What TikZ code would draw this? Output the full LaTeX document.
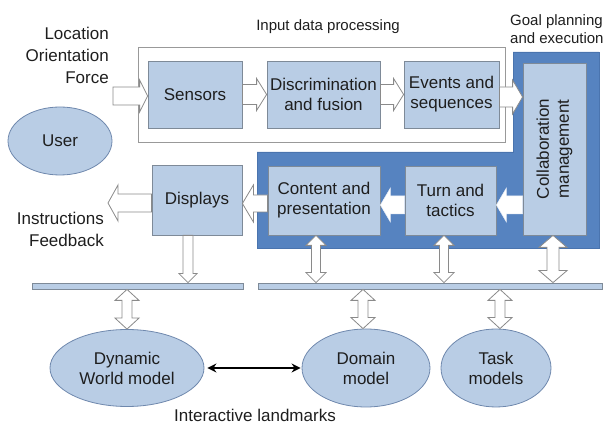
\documentclass[tikz,border=0pt]{standalone}
\usepackage{fontspec}
\setmainfont{Liberation Sans}
\usetikzlibrary{calc,shapes.geometric,arrows.meta}
\definecolor{boxfill}{HTML}{B9CDE5}
\definecolor{boxline}{HTML}{7E8A98}
\definecolor{darkblue}{HTML}{5683C0}
\definecolor{darkline}{HTML}{4A74AE}
\definecolor{ellline}{HTML}{6F88AD}
\definecolor{arrline}{HTML}{8A8A8A}
\definecolor{txt}{HTML}{1E1E1E}
% horizontal block arrow: style, from, to(tip), shaft half, head half, head length
\newcommand\harr[6]{%
  \path[#1] let \p1=(#2), \p2=(#3), \n1={sign(\x2-\x1)} in
    (\x1,{\y1+#4}) -- ({\x2-\n1*#6},{\y1+#4}) -- ({\x2-\n1*#6},{\y1+#5}) -- (\x2,\y1)
    -- ({\x2-\n1*#6},{\y1-#5}) -- ({\x2-\n1*#6},{\y1-#4}) -- (\x1,{\y1-#4}) -- cycle;}
% vertical double block arrow: style, top, bottom, shaft half, head half, head length
\newcommand\vdarr[6]{%
  \path[#1] let \p1=(#2), \p2=(#3) in
    (\x1,\y1) -- ({\x1+#5},{\y1-#6}) -- ({\x1+#4},{\y1-#6}) -- ({\x1+#4},{\y2+#6})
    -- ({\x1+#5},{\y2+#6}) -- (\x1,\y2) -- ({\x1-#5},{\y2+#6}) -- ({\x1-#4},{\y2+#6})
    -- ({\x1-#4},{\y1-#6}) -- ({\x1-#5},{\y1-#6}) -- cycle;}
% vertical single block arrow pointing down
\newcommand\vsarr[6]{%
  \path[#1] let \p1=(#2), \p2=(#3) in
    ({\x1-#4},\y1) -- ({\x1-#4},{\y2+#6}) -- ({\x1-#5},{\y2+#6}) -- (\x1,\y2)
    -- ({\x1+#5},{\y2+#6}) -- ({\x1+#4},{\y2+#6}) -- ({\x1+#4},\y1) -- cycle;}
\begin{document}
\begin{tikzpicture}[x=1pt,y=-1pt,
  every node/.style={text=txt, font=\fontsize{17}{20}\selectfont},
  blk/.style={draw=boxline, fill=boxfill, line width=0.8pt, align=center, inner sep=0pt},
  ell/.style={ellipse, draw=ellline, fill=boxfill, line width=0.8pt, align=center, inner sep=0pt},
  bar/.style={draw=boxline, fill=boxfill, line width=0.8pt, inner sep=0pt},
  hollow/.style={draw=arrline, fill=white, line width=0.8pt, line join=miter},
  solidw/.style={fill=white, draw=white!85!darkblue, line width=0.5pt},
  lbl/.style={font=\fontsize{15}{18.5}\selectfont, inner sep=0pt},
  side/.style={align=right, inner sep=0pt, font=\fontsize{17}{22}\selectfont}
]
\useasboundingbox (0,0) rectangle (603,427);

% goal planning region
\path[fill=darkblue, draw=darkline, line width=0.6pt]
  (257,152) -- (513,152) -- (513,52) -- (599,52) -- (599,248) -- (257,248) -- cycle;

% input data processing frame
\node[draw=black!40, line width=0.9pt, fill=white, minimum width=367pt, minimum height=95pt, inner sep=0pt] (inputbox) at (321.5,94.5) {};

% blocks
\node[blk, minimum width=94pt, minimum height=67pt] (sensors) at (195,94.5) {Sensors};
\node[blk, minimum width=113pt, minimum height=67pt] (discr) at (323.5,94.5) {Discrimination\\and fusion};
\node[blk, minimum width=95pt, minimum height=67pt] (events) at (451.5,94.5) {Events and\\sequences};
\node[blk, minimum width=63pt, minimum height=172pt] (collab) at (554.5,149) {};
\node[rotate=90, align=center, inner sep=0pt] (collabtext) at (collab.center) {Collaboration\\management};
\node[blk, minimum width=112pt, minimum height=69pt] (content) at (324,200.5) {Content and\\presentation};
\node[blk, minimum width=91pt, minimum height=69pt] (turn) at (450.5,200.5) {Turn and\\tactics};
\node[blk, minimum width=90pt, minimum height=70pt] (displays) at (197,200) {Displays};

% bars
\node[bar, minimum width=211pt, minimum height=6pt] (leftbar) at (137.5,286) {};
\node[bar, minimum width=344pt, minimum height=6pt] (rightbar) at (430,286) {};

% ellipses
\node[ell, minimum width=104pt, minimum height=68pt] (user) at (60,141) {User};
\node[ell, minimum width=154pt, minimum height=77pt] (dyn) at (127,368) {Dynamic\\World model};
\node[ell, minimum width=128pt, minimum height=78pt] (domain) at (366,368) {Domain\\model};
\node[ell, minimum width=110pt, minimum height=78pt] (task) at (496,368) {Task\\models};

% labels
\node[lbl] (inlbl) at (328,27) {Input data processing};
\node[lbl, anchor=west, align=left] (goallbl) at (510,29) {Goal planning\\and execution};
\node[side, anchor=east] (senslbl) at (109,55) {Location\\Orientation\\Force};
\node[side, anchor=east] (outlbl) at (104,229) {Instructions\\Feedback};
\node[inner sep=0pt] (ilbl) at (255,415) {Interactive landmarks};

% free ends
\coordinate (inpstart) at (113,96);
\coordinate (outend) at (108,203);

% input row arrows
\harr{hollow}{inpstart}{sensors.west}{9pt}{16pt}{8pt}
\harr{hollow}{sensors.east}{discr.west}{10pt}{16pt}{10pt}
\harr{hollow}{discr.east}{events.west}{10pt}{16pt}{10pt}
\harr{hollow}{$(events.east)+(0,2.5)$}{collab.west}{10pt}{17pt}{10pt}

% goal planning arrows
\harr{solidw}{$(collab.west |- turn.east)+(0,4.5)$}{turn.east}{9pt}{17pt}{10pt}
\harr{solidw}{$(turn.west)+(0,4.5)$}{content.east}{9pt}{17pt}{10pt}
\harr{hollow}{$(content.west)+(0,3)$}{displays.east}{8.5pt}{18.5pt}{11pt}
\harr{hollow}{$(displays.west)+(0,3)$}{outend}{9pt}{18pt}{10pt}

% vertical arrows
\vsarr{hollow}{$(displays.south)+(-9,0)$}{leftbar.north}{5pt}{9pt}{9pt}
\vdarr{hollow}{$(content.south)+(-8,0)$}{rightbar.north}{4.5pt}{10pt}{10pt}
\vdarr{hollow}{$(turn.south)+(-6.5,0)$}{rightbar.north}{4.5pt}{10pt}{10pt}
\vdarr{hollow}{$(collab.south)+(-1.5,0)$}{rightbar.north}{6pt}{14pt}{12pt}
\vdarr{hollow}{leftbar.south -| dyn.north}{dyn.north}{5pt}{12pt}{11pt}
\vdarr{hollow}{$(rightbar.south -| domain.north)+(-3,0)$}{domain.north}{5pt}{12pt}{11pt}
\vdarr{hollow}{$(rightbar.south -| task.north)+(4,0)$}{task.north}{5pt}{12pt}{11pt}

% interactive landmarks link
\draw[{Stealth[length=9pt,width=9pt]}-{Stealth[length=9pt,width=9pt]}, line width=1.6pt, black, shorten <=3pt, shorten >=1pt] (dyn.east) -- (domain.west);
\end{tikzpicture}
\end{document}
